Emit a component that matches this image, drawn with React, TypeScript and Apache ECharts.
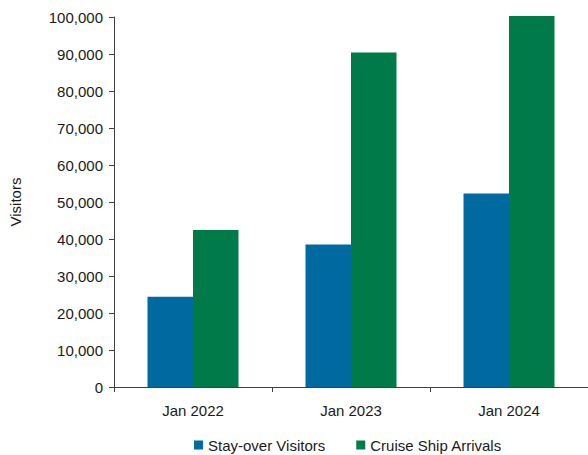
import React, { useEffect, useRef } from "react";
import * as echarts from "echarts";

const categories = ["Jan 2022", "Jan 2023", "Jan 2024"];
const stayOver = [24400, 38500, 52300];
const cruise = [42400, 90400, 100300];
const seriesNames = ["Stay-over Visitors", "Cruise Ship Arrivals"];

const FONT = "'Liberation Sans', Arial, sans-serif";

export default function App() {
  const ref = useRef<HTMLDivElement>(null);
  useEffect(() => {
    const chart = echarts.init(ref.current!, null, { renderer: "svg" });
    chart.setOption({
      animation: false,
      textStyle: { fontFamily: FONT },
      grid: { left: 111, right: -3, top: 17, bottom: 68, containLabel: false },
      legend: {
        left: 194,
        top: 436,
        padding: 0,
        itemWidth: 9,
        itemHeight: 9,
        itemGap: 31,
        icon: "rect",
        textStyle: { fontSize: 15, lineHeight: 18, color: "#1a1a1a", fontFamily: FONT },
        data: seriesNames,
      },
      xAxis: {
        type: "category",
        data: categories,
        boundaryGap: true,
        axisLine: { lineStyle: { color: "#404040", width: 1 } },
        axisTick: { show: true, length: 5, lineStyle: { color: "#404040" } },
        axisLabel: { fontSize: 15, color: "#1a1a1a", margin: 16, fontFamily: FONT },
      },
      yAxis: {
        type: "value",
        min: 0,
        max: 100000,
        interval: 10000,
        name: "Visitors",
        nameLocation: "middle",
        nameGap: 91,
        nameTextStyle: { fontSize: 15, color: "#1a1a1a", fontFamily: FONT },
        axisLine: { show: true, lineStyle: { color: "#404040", width: 1 } },
        axisTick: { show: true, length: 5, lineStyle: { color: "#404040" } },
        splitLine: { show: false },
        axisLabel: {
          fontSize: 15,
          color: "#1a1a1a",
          margin: 11,
          fontFamily: FONT,
          formatter: (v: number) => v.toLocaleString("en-US"),
        },
      },
      series: [
        {
          name: seriesNames[0],
          type: "bar",
          data: stayOver,
          barWidth: 45.5,
          barGap: "0%",
          clip: false,
          itemStyle: { color: "#0069A0" },
        },
        {
          name: seriesNames[1],
          type: "bar",
          data: cruise,
          barWidth: 45.5,
          barGap: "0%",
          clip: false,
          itemStyle: { color: "#017A49" },
        },
      ],
    });
    return () => chart.dispose();
  }, []);
  return (
    <div
      ref={ref}
      style={{ position: "fixed", left: 0, top: 0, width: 588, height: 455, background: "#fff" }}
    />
  );
}
